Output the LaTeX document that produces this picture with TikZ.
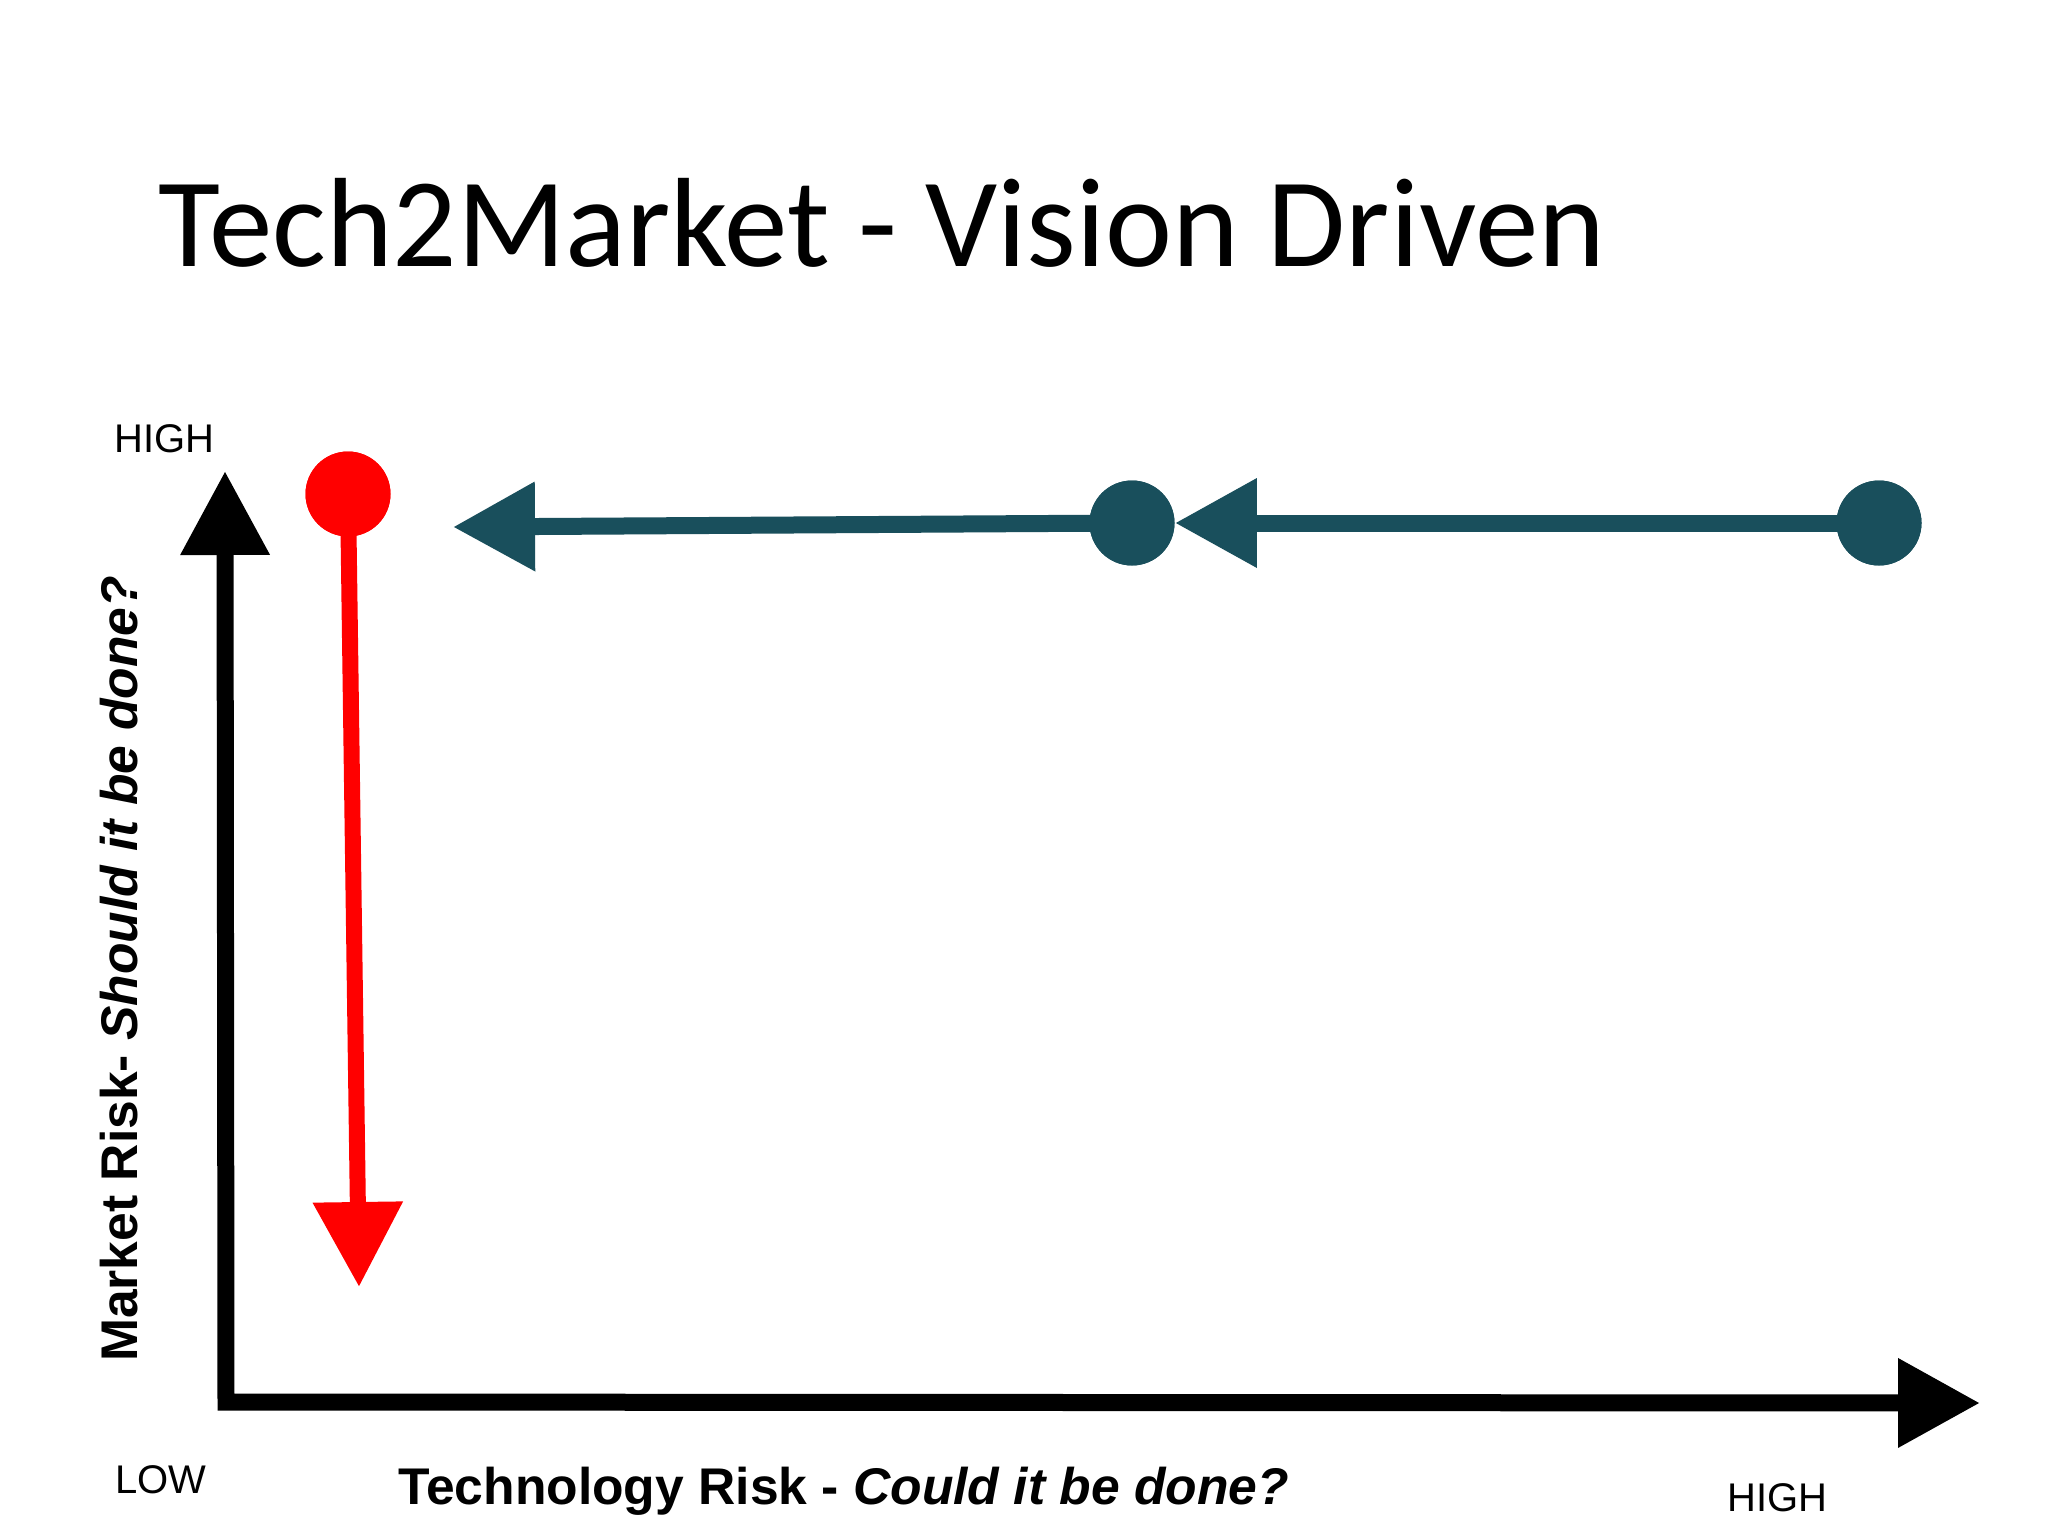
\documentclass[tikz,border=0pt]{standalone}
\usepackage{fontspec}
\setmainfont{Liberation Sans}
\newfontfamily\titlefont{Carlito}
\usetikzlibrary{arrows.meta}
\definecolor{tealdark}{HTML}{194F5C}
\definecolor{redpt}{HTML}{FF0000}
\begin{document}
\begin{tikzpicture}[x=0.5pt,y=-0.5pt,
  dot/.style={circle,inner sep=0pt,minimum size=42.5pt,draw=none},
  axis/.style={line width=8.5pt,draw=black,line join=miter,
    {Triangle[length=42pt,width=42.5pt]}-{Triangle[length=41pt,width=42.5pt]}},
  tealarrow/.style={line width=8.5pt,draw=tealdark,-{Triangle[length=41pt,width=42.5pt]}},
  redarrow/.style={line width=8pt,draw=redpt,-{Triangle[length=42.5pt,width=43pt]}},
  lbl/.style={inner sep=0pt,font=\fontsize{20}{24}\selectfont},
  axlbl/.style={inner sep=0pt,font=\fontsize{25.8}{30}\selectfont\bfseries}
]
\useasboundingbox[fill=white] (0,0) rectangle (2048,1536);

% title
\node[inner sep=0pt,anchor=base west,font=\titlefont\fontsize{63.5}{72}\selectfont] (title) at (158,266) {Tech2Market - Vision Driven};

% axes
\coordinate (ytip) at (225,471);
\coordinate (corner) at (226,1402);
\coordinate (xtip) at (1980,1403);
\draw[axis] (ytip) -- (corner) -- (xtip);

% labels
\node[lbl,anchor=base west] (hightop) at (114,452) {HIGH};
\node[lbl,anchor=base west] (low) at (115,1493) {LOW};
\node[lbl,anchor=base west] (highright) at (1727,1511) {HIGH};
\node[axlbl,anchor=base west] (xlabel) at (398,1504) {Technology Risk - \textit{Could it be done?}};
\node[axlbl,anchor=base,rotate=90] (ylabel) at (137,969) {Market Risk- \textit{Should it be done?}};

% points
\node[dot,fill=redpt] (red) at (348,494) {};
\node[dot,fill=tealdark] (mid) at (1132,523) {};
\node[dot,fill=tealdark] (right) at (1879,523) {};
\coordinate (redend) at (359,1287);
\coordinate (tealend) at (453,527);

\draw[redarrow] (red.center) -- (redend);
\draw[tealarrow] (right.center) -- (mid.east);
\draw[tealarrow] (mid.center) -- (tealend);
\node[dot,fill=redpt] at (red) {};
\node[dot,fill=tealdark] at (mid) {};
\node[dot,fill=tealdark] at (right) {};
\end{tikzpicture}
\end{document}
